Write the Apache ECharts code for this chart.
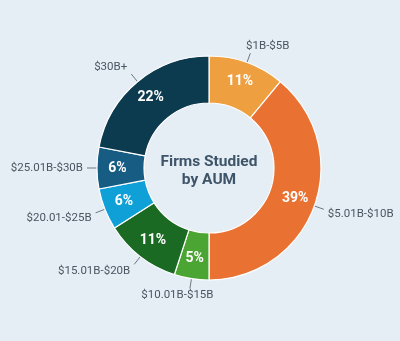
<!DOCTYPE html>
<html><head><meta charset="utf-8">
<script src="https://cdn.jsdelivr.net/npm/echarts@6/dist/echarts.min.js"></script>
<style>html,body{margin:0;padding:0;background:#E6EEF5;}#c{width:400px;height:341px;}</style>
</head><body><div id="c"></div>
<script>
const categories = ['$1B-$5B','$5.01B-$10B','$10.01B-$15B','$15.01B-$20B','$20.01-$25B','$25.01B-$30B','$30B+'];
const values = [11,39,5,11,6,6,22];
const colors = ['#EE9F3F','#E97233','#4BA532','#1B6A23','#10A0D8','#175D83','#0C3A4E'];
const centerTitle = 'Firms Studied\nby AUM';

const CX = 209, CY = 168;
const data = categories.map((c,i)=>({name:c,value:values[i],itemStyle:{color:colors[i]}}));
const chart = echarts.init(document.getElementById('c'));
const font = 'Roboto, sans-serif';
function place(p){
  const pts = p.labelLinePoints;
  if(!pts) return {};
  const a = pts[0], b = pts[1];
  let dx = b[0]-CX, dy = b[1]-CY;
  const L = Math.hypot(dx,dy); dx/=L; dy/=L;
  const k = 2;
  const fx = Math.max(-1,Math.min(1,dx*k)), fy = Math.max(-1,Math.min(1,dy*k));
  const w = p.labelRect.width, h = p.labelRect.height;
  return {x: b[0] + fx*(w/2+4), y: b[1] + fy*(h/2+1), align:'center', verticalAlign:'middle', labelLinePoints:[a,b,b]};
}
chart.setOption({
  backgroundColor:'#E6EEF5',
  animation:false,
  graphic:[{type:'text',x:CX,y:CY+3,style:{text:centerTitle,align:'center',verticalAlign:'middle',font:'bold 15.5px '+font,fill:'#3E5468',lineHeight:18}}],
  series:[
    {type:'pie',center:[CX,CY],radius:[65,112],startAngle:90,clockwise:true,
     data:data,
     itemStyle:{borderColor:'#ffffff',borderWidth:1.2},
     label:{show:true,position:'inside',formatter:'{c}%',color:'#fff',fontWeight:'bold',fontSize:14,fontFamily:font},
     labelLine:{show:false},silent:true},
    {type:'pie',center:[CX,CY],radius:[65,112],startAngle:90,clockwise:true,
     data:categories.map((c,i)=>({name:c,value:values[i]})),
     itemStyle:{color:'rgba(0,0,0,0)'},
     label:{show:true,position:'outside',formatter:'{b}',color:'#4A5560',fontSize:11.5,fontFamily:font,overflow:'none',alignTo:'none'},
     labelLine:{show:true,length:10,length2:0,lineStyle:{color:'#6E7880',width:1}},
     labelLayout:place,silent:true}
  ]
});
</script></body></html>
